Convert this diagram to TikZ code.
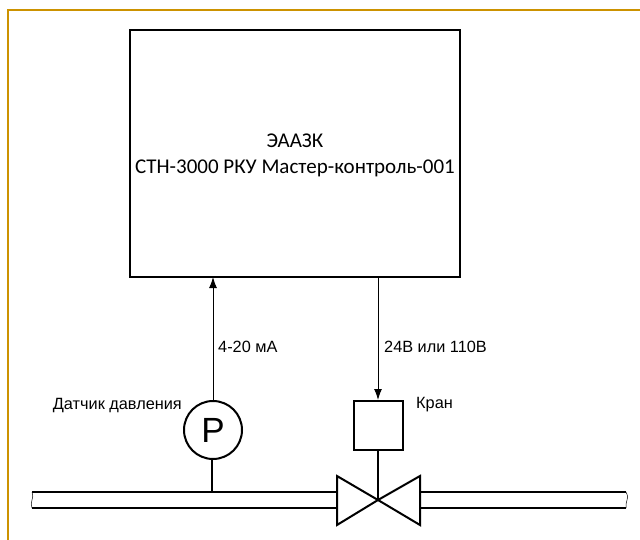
\documentclass[tikz,border=0pt]{standalone}
\usepackage{fontspec}
\setmainfont{Liberation Sans}
\newfontfamily\boxfont{Carlito}
\usetikzlibrary{arrows.meta,positioning}
\definecolor{framecol}{HTML}{CC9200}
\tikzset{
  heavy/.style={line width=2pt,black},
  wire/.style={line width=1pt,black},
  tag/.style={inner sep=0pt,font=\fontsize{16.3}{19}\selectfont},
}
\begin{document}
\begin{tikzpicture}[x=1pt,y=-1pt]
      \useasboundingbox (0,0) rectangle (640,540);

      %%%%  Frame
      \draw[line width=2pt,framecol] (640,10) -- (8,10) -- (8,540);

      %%%%%%%%%%%%%%%%%%%%%%%%%%%%%%%%%%%%%%%%%%%%%%%%%%%%%%%%%%%%%%%%%%%%%%%%%%%
      %%%%  Pipe
      \draw[heavy] (32,492) -- (337,492);
      \draw[heavy] (32,508) -- (337,508);
      \draw[heavy] (420,492) -- (626,492);
      \draw[heavy] (420,508) -- (626,508);
      \draw[line width=.5pt] (32,492) .. controls (33,496) and (33,498) .. (32,500)
        .. controls (31,503) and (31,505) .. (32,508);
      \draw[line width=.5pt] (626,492) .. controls (628,496) and (628,498) .. (627,500)
        .. controls (626,503) and (626,505) .. (626,508);

      %%%%%%%%%%%%%%%%%%%%%%%%%%%%%%%%%%%%%%%%%%%%%%%%%%%%%%%%%%%%%%%%%%%%%%%%%%%
      \node[draw,heavy,minimum width=330pt,minimum height=247pt,inner sep=0pt] (master) at (295,153.5) {};
      \node[font=\boxfont\fontsize{21}{26}\selectfont,align=center,inner sep=0pt] (mastertext) at (295,155)
        {ЭААЗК\\СТН-3000 РКУ Мастер-контроль-001};

      \node[draw,heavy,circle,minimum size=58pt,inner sep=0pt,font=\fontsize{35}{35}\selectfont] (sensor) at (213,430) {P};
      \node[draw,heavy,minimum size=49pt,inner sep=0pt] (drive) at (378,425.5) {};
      \coordinate (valve) at (378,500);
      \coordinate (tap) at (212,492);
      \coordinate (mainA) at (213,277);
      \coordinate (mainB) at (378,277);

      %%%%  Valve
      \draw[heavy,line join=miter,fill=white] (valve) -- (337,476) -- (337,525) -- cycle;
      \draw[heavy,line join=miter,fill=white] (valve) -- (420,476) -- (420,525) -- cycle;

      %%%%  Connectors
      \draw[heavy] (drive.south) -- (valve);
      \draw[heavy] (sensor.south -| tap) -- (tap);
      \draw[wire,-{Latex[length=11pt,width=8pt]}] (sensor.north) -- (mainA);
      \draw[wire,-{Latex[length=11pt,width=8pt]}] (mainB) -- (drive.north);

      %%%%  Labels
      \node[tag,anchor=west] (current) at (218,347) {4-20 мА};
      \node[tag,anchor=west] (voltage) at (384,347) {24В или 110В};
      \node[tag,anchor=east] (sensorname) at (182,406) {Датчик давления};
      \node[tag,anchor=west] (drivename) at (416,405) {Кран};
    \end{tikzpicture}
\end{document}
